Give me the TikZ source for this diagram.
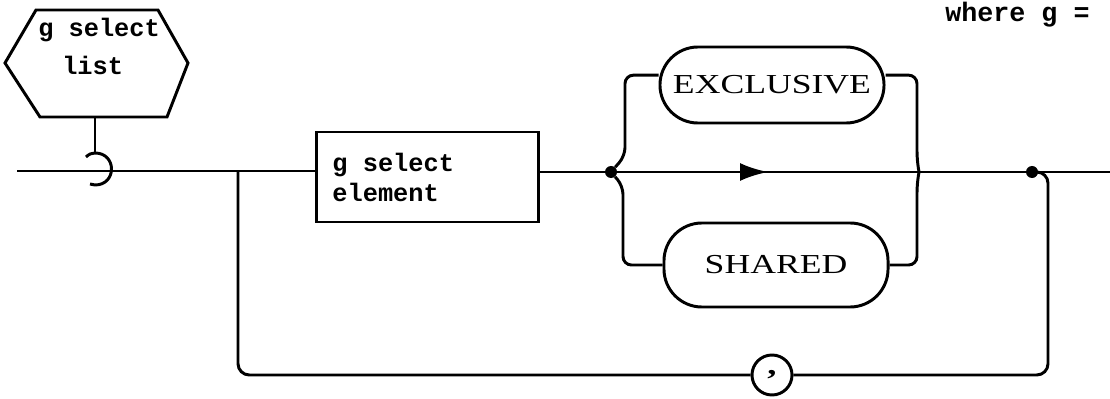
\documentclass[tikz,border=0pt]{standalone}
\usepackage{fontspec}
\setmainfont[FakeStretch=1.3]{Liberation Serif}
\newfontfamily\tyfont{Liberation Mono}
\usetikzlibrary{arrows.meta}

\tikzset{
  synline/.style={line width=2.1pt},
  tytext/.style={font=\fontsize{18}{21}\selectfont\tyfont\bfseries, inner sep=0pt},
  termbox/.style={draw, line width=2.1pt, rounded corners=0.95cm, minimum width=5.6cm,
    inner sep=0pt, font=\fontsize{19.5}{22}\selectfont},
  ntbox/.style={draw, line width=2.1pt, text width=4.75cm, inner xsep=0.4cm,
    minimum height=2.25cm, align=left, font=\fontsize{18}{21.3}\selectfont\tyfont\bfseries},
  junc/.style={circle, fill, inner sep=0pt, minimum size=0.3cm},
  commanode/.style={draw, circle, line width=2.1pt, minimum size=1cm, inner sep=0pt,
    font=\fontsize{20}{22}\selectfont\bfseries},
}

\begin{document}
\begin{tikzpicture}[x=0.025cm,y=-0.025cm]
\useasboundingbox (0,0) rectangle (1110,399);

% the list symbol on top
\draw[synline] (5,63) -- (36,10) -- (158,10) -- (188,63) -- (167,117) -- (40,117) -- cycle;
\coordinate (hexbot) at (95,117);
\node[tytext, anchor=base west] (hexA) at (38,37) {g select};
\node[tytext, anchor=base west] (hexB) at (62,75) {list};

\node[tytext, anchor=base west, font=\fontsize{19}{22}\selectfont\tyfont\bfseries] (where) at (945,22) {where g =};

% nodes on the track
\coordinate (start) at (17,171);
\coordinate (hook) at (95,153);
\coordinate (lj) at (238,171);
\node[ntbox] (selel) at (427.5,177) {g\hspace{0.6em}select\\element};
\node[junc] (j1) at (611,172) {};
\node[termbox, minimum height=1.9cm] (excl) at (772,85) {EXCLUSIVE};
\node[termbox, minimum height=2.1cm] (shared) at (776,265) {SHARED};
\coordinate (mid) at (768,172);
\coordinate (rj) at (919,172);
\node[junc] (j2) at (1032,172) {};
\coordinate (end) at (1110,172);
\node[commanode] (comma) at (772,375) {,};

% main track
\draw[synline] (start) -- (lj) -- (selel.west |- lj);
\draw[synline] (selel.east |- j1) -- (j1);
\draw[synline] (j1) -- (j2) -- (end);
\draw[synline, -{Latex[length=0.7cm,width=0.45cm]}] (j1) -- (mid);

% stem and hook
\draw[synline] (hexbot) -- (hook);
\draw[synline] (86,157) .. controls (89,154) and (92,153) .. (hook)
  .. controls (117,153) and (117,185) .. (95,185) -- (90,184);

% optional branches
\draw[synline, rounded corners=6] (j1) -- (625,156) |- ([yshift=7pt]excl.west);
\draw[synline, rounded corners=6] ([yshift=7pt]excl.east) -| (917,160) -- (rj);
\draw[synline, rounded corners=6] (j1) -- (623,186) |- (shared.west);
\draw[synline, rounded corners=6] (shared.east) -| (917,184) -- (rj);

% repeat loop
\draw[synline, rounded corners=8] (lj) |- (comma.west);
\draw[synline, rounded corners=8] (j2) -| (1048,375) -- (comma.east);
\end{tikzpicture}
\end{document}
